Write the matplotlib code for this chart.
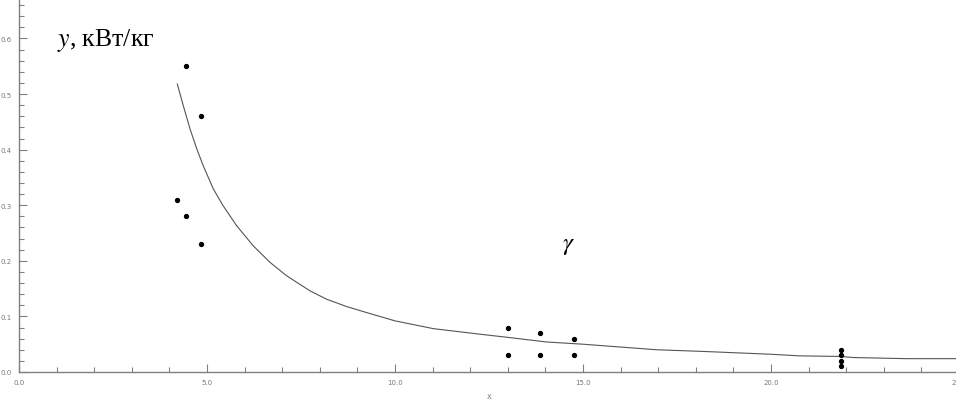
import matplotlib
matplotlib.use("Agg")
import matplotlib.pyplot as plt
from matplotlib.ticker import MultipleLocator, FormatStrFormatter

# measured points
pts_x = [4.45, 4.85, 4.2, 4.45, 4.85, 13.0, 13.0, 13.85, 13.85, 14.75, 14.75,
         21.85, 21.85, 21.85, 21.85]
pts_y = [0.55, 0.46, 0.31, 0.28, 0.23, 0.08, 0.03, 0.07, 0.03, 0.06, 0.03,
         0.04, 0.03, 0.02, 0.01]

# approximating curve
curve_x = [4.21, 4.37, 4.55, 4.73, 4.90, 5.17, 5.43, 5.79, 6.23, 6.68,
           7.12, 7.44, 7.74, 8.18, 8.70, 9.24, 10.0, 11.02, 12.26, 13.04,
           14.03, 15.0, 16.96, 18.2, 19.97, 20.77, 21.85, 22.19, 23.6, 25.0]
curve_y = [0.518, 0.479, 0.437, 0.401, 0.371, 0.329, 0.299, 0.263, 0.227,
           0.197, 0.173, 0.159, 0.146, 0.131, 0.118, 0.107, 0.092,
           0.078, 0.068, 0.062, 0.054, 0.050, 0.040, 0.037, 0.032, 0.029,
           0.028, 0.026, 0.024, 0.024]

W, H = 956, 410
fig = plt.figure(figsize=(W / 100, H / 100), dpi=100)
ax = fig.add_axes([19 / W, (H - 373) / H, 940 / W, 373 / H])

ax.plot(curve_x, curve_y, color="#555555", linewidth=0.8)
ax.plot(pts_x, pts_y, "o", color="black", markersize=2.8, linestyle="none")

ax.set_xlim(0, 25)
ax.set_ylim(0, 0.671)

for s in ["top", "right"]:
    ax.spines[s].set_visible(False)
for s in ["left", "bottom"]:
    ax.spines[s].set_color("#808080")
    ax.spines[s].set_linewidth(1.0)

ax.xaxis.set_major_locator(MultipleLocator(5))
ax.xaxis.set_minor_locator(MultipleLocator(1))
ax.yaxis.set_major_locator(MultipleLocator(0.1))
ax.yaxis.set_minor_locator(MultipleLocator(0.02))
ax.xaxis.set_major_formatter(FormatStrFormatter("%.1f"))
ax.yaxis.set_major_formatter(FormatStrFormatter("%.1f"))

ax.tick_params(which="major", direction="in", length=6, width=0.8,
               color="#808080", labelsize=5, labelcolor="#777777", pad=5)
ax.tick_params(which="minor", direction="in", length=3.5, width=0.8,
               color="#808080")

ax.set_xlabel("X", fontsize=5, color="#777777", labelpad=6)

plt.rcParams["mathtext.fontset"] = "stix"
fig.text(57 / W, (H - 46) / H, r"$y$, кВт/кг",
         fontsize=18.5, family="Liberation Serif", color="black")
fig.text(562 / W, (H - 250) / H, r"$\gamma$",
         fontsize=18, family="Liberation Serif", color="black")

fig.savefig("out.png", dpi=100)
